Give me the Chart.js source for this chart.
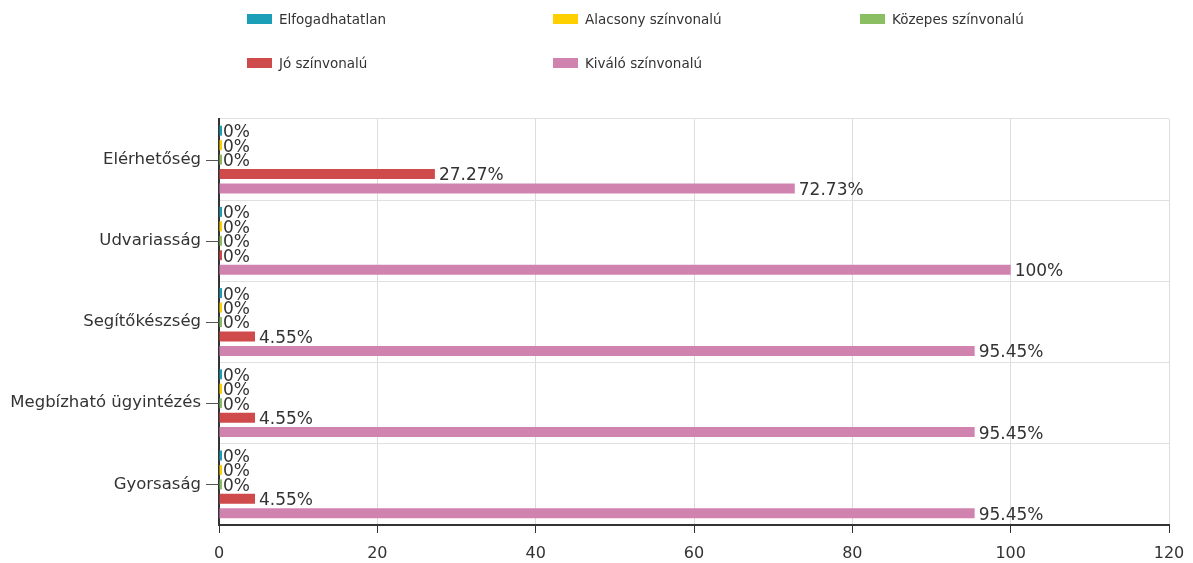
<!DOCTYPE html>
<html lang="hu">
<head>
<meta charset="UTF-8">
<title>Értékelés</title>
<script src="https://cdn.jsdelivr.net/npm/chart.js@4"></script>
<style>
    body { margin: 0; background: #fff; font-family: 'DejaVu Sans', Verdana, sans-serif; }
    .wrap { position: relative; width: 1193px; height: 563px; }
    .legend { position: absolute; left: 247px; top: 9px; width: 930px; }
    .legend .item { position: absolute; font-size: 13.5px; color: #333; white-space: nowrap; line-height: 20px; }
    .legend .box { display: inline-block; width: 25px; height: 10px; margin-right: 7px; vertical-align: 0px; }
</style>
</head>
<body>
<div class="wrap">
    <canvas id="chart" width="1193" height="563"></canvas>
    <div class="legend" id="legend"></div>
</div>
<script>
    // kategóriák és sorozatok
    const categories = ['Elérhetőség', 'Udvariasság', 'Segítőkészség', 'Megbízható ügyintézés', 'Gyorsaság'];
    const seriesNames = ['Elfogadhatatlan', 'Alacsony színvonalú', 'Közepes színvonalú', 'Jó színvonalú', 'Kiváló színvonalú'];
    const seriesColors = ['#1b9fb8', '#ffd000', '#8bbd62', '#cf4a4b', '#d083ae'];
    const elfogadhatatlan = [0, 0, 0, 0, 0];
    const alacsony = [0, 0, 0, 0, 0];
    const kozepes = [0, 0, 0, 0, 0];
    const jo = [27.27, 0, 4.55, 4.55, 4.55];
    const kivalo = [72.73, 100, 95.45, 95.45, 95.45];
    const xTicks = [0, 20, 40, 60, 80, 100, 120];

    const seriesValues = [elfogadhatatlan, alacsony, kozepes, jo, kivalo];
    const fontFamily = '"DejaVu Sans", Verdana, sans-serif';

    // legend (3 oszlop)
    const legendEl = document.getElementById('legend');
    const colX = [0, 306, 613];
    seriesNames.forEach((name, i) => {
        const div = document.createElement('div');
        div.className = 'item';
        div.style.left = colX[i % 3] + 'px';
        div.style.top = (Math.floor(i / 3) * 44) + 'px';
        div.innerHTML = '<span class="box" style="background:' + seriesColors[i] + '"></span>' + name;
        legendEl.appendChild(div);
    });

    // értékcímkék a sávok végén
    const valueLabels = {
        id: 'valueLabels',
        afterDatasetsDraw(chart) {
            const ctx = chart.ctx;
            ctx.save();
            ctx.font = '17px ' + fontFamily;
            ctx.fillStyle = '#333';
            ctx.textAlign = 'left';
            ctx.textBaseline = 'middle';
            chart.data.datasets.forEach((ds, di) => {
                chart.getDatasetMeta(di).data.forEach((bar, i) => {
                    const x = ds.data[i] === 0 ? chart.chartArea.left : bar.x;
                    ctx.fillText(ds.data[i] + '%', x + 4, bar.y + 2);
                });
            });
            ctx.restore();
        }
    };

    // y tengely jelölők a kategóriák közepén
    const yTickMarks = {
        id: 'yTickMarks',
        afterDraw(chart) {
            const ctx = chart.ctx;
            const y = chart.scales.y;
            ctx.save();
            ctx.strokeStyle = '#555';
            ctx.lineWidth = 1;
            categories.forEach((c, i) => {
                const py = Math.round(y.getPixelForValue(i)) + 0.5;
                ctx.beginPath();
                ctx.moveTo(y.right - 13, py);
                ctx.lineTo(y.right, py);
                ctx.stroke();
            });
            ctx.restore();
        }
    };

    new Chart(document.getElementById('chart'), {
        type: 'bar',
        data: {
            labels: categories,
            datasets: seriesNames.map((name, i) => ({
                label: name,
                data: seriesValues[i],
                backgroundColor: seriesColors[i],
                borderWidth: 0,
                minBarLength: 3,
                categoryPercentage: 0.89,
                barPercentage: 0.69
            }))
        },
        options: {
            indexAxis: 'y',
            responsive: false,
            animation: false,
            layout: { padding: { top: 119, right: 24, left: 0, bottom: 0 } },
            plugins: {
                legend: { display: false },
                tooltip: { enabled: false }
            },
            scales: {
                x: {
                    min: 0,
                    max: 120,
                    afterBuildTicks: (axis) => { axis.ticks = xTicks.map(v => ({ value: v })); },
                    afterFit: (axis) => { axis.height = 38; axis.paddingRight = 0; axis.paddingLeft = 0; },
                    grid: { color: '#dcdcdc', tickColor: '#333', tickLength: 8 },
                    border: { color: '#333', width: 2 },
                    ticks: { color: '#333', font: { family: fontFamily, size: 16 }, padding: 11 }
                },
                y: {
                    afterFit: (axis) => { axis.width = 219; },
                    grid: { offset: true, color: '#e0e0e0', drawTicks: false },
                    border: { color: '#333', width: 2 },
                    ticks: { color: '#333', font: { family: fontFamily, size: 16.5 }, padding: 18 }
                }
            }
        },
        plugins: [valueLabels, yTickMarks]
    });
</script>
</body>
</html>
